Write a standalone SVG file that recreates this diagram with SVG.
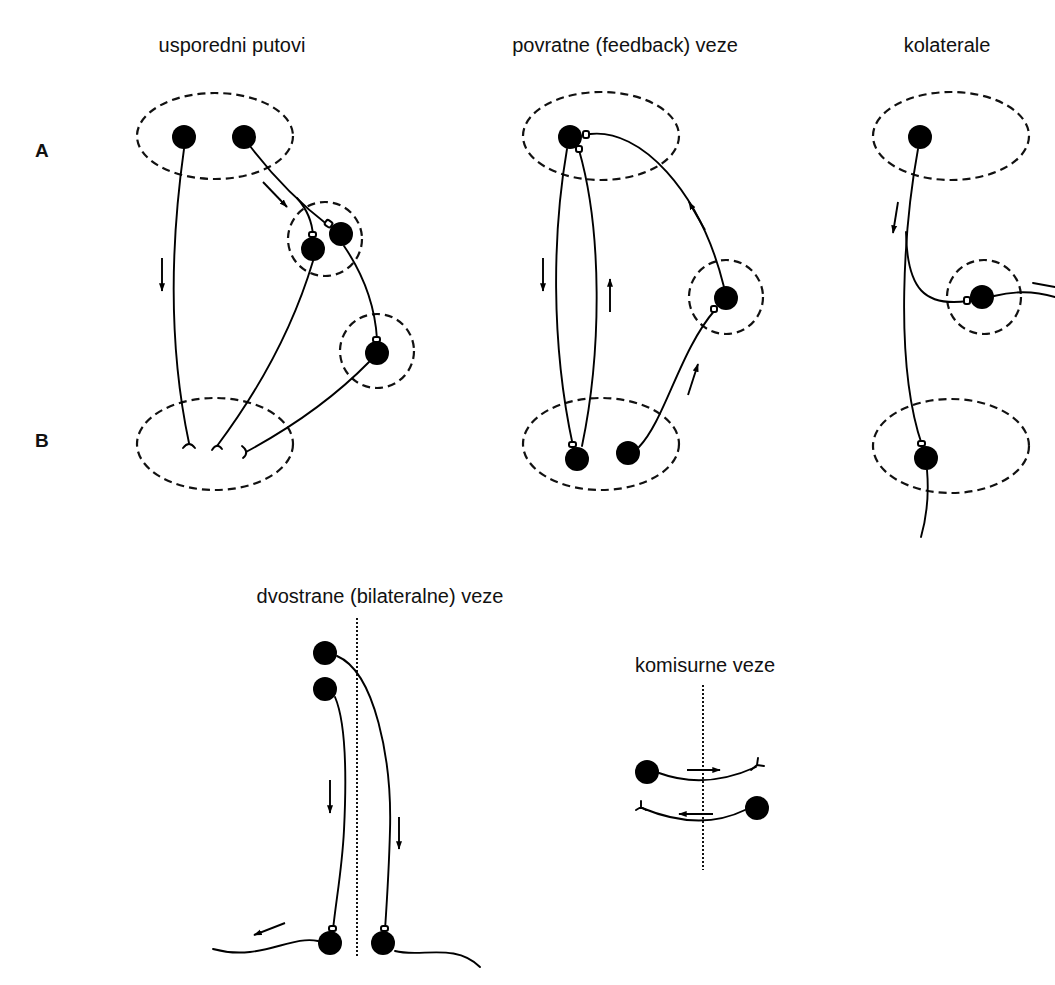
<svg xmlns="http://www.w3.org/2000/svg" width="1055" height="985" viewBox="0 0 1055 985">
<style>
.t{font-family:"Liberation Sans",Arial,sans-serif;font-size:20px;fill:#111;text-anchor:middle}
.L{font-family:"Liberation Sans",Arial,sans-serif;font-size:19px;font-weight:bold;fill:#111}
.grp{fill:none;stroke:#111;stroke-width:2.2;stroke-dasharray:8 5}
.mid{fill:none;stroke:#111;stroke-width:2;stroke-dasharray:2 2}
.n{fill:#000}
.ax{fill:none;stroke:#000;stroke-width:1.9;stroke-linecap:round}
.ar{fill:none;stroke:#000;stroke-width:1.9;marker-end:url(#ah)}
.kn{fill:#fff;stroke:#000;stroke-width:2}
</style>
<defs>
<marker id="ah" viewBox="0 0 10 10" refX="9" refY="5" markerWidth="4.5" markerHeight="4.5" orient="auto" markerUnits="strokeWidth">
<path d="M0,1.5 L10,5 L0,8.5 Z" fill="#000"/>
</marker>
</defs>
<rect width="1055" height="985" fill="#fff"/>
<g id="labels">
<text class="t" x="232" y="52">usporedni putovi</text>
<text class="t" x="625" y="52">povratne (feedback) veze</text>
<text class="t" x="947" y="52">kolaterale</text>
<text class="t" x="380" y="603">dvostrane (bilateralne) veze</text>
<text class="t" x="705" y="672">komisurne veze</text>
<text class="L" x="35" y="157">A</text>
<text class="L" x="35" y="447">B</text>
</g>
<g id="groups">
<ellipse class="grp" cx="215" cy="136" rx="78" ry="43"/>
<ellipse class="grp" cx="215" cy="444" rx="78" ry="46"/>
<circle class="grp" cx="325" cy="239" r="37"/>
<circle class="grp" cx="377" cy="351" r="37"/>
<ellipse class="grp" cx="601" cy="136" rx="78" ry="44"/>
<ellipse class="grp" cx="601" cy="444" rx="78" ry="46"/>
<circle class="grp" cx="726" cy="297" r="37"/>
<ellipse class="grp" cx="951" cy="136" rx="78" ry="44"/>
<ellipse class="grp" cx="951" cy="446" rx="78" ry="47"/>
<circle class="grp" cx="984" cy="297" r="37"/>
<line class="mid" x1="357" y1="618" x2="357" y2="958"/>
<line class="mid" x1="703" y1="685" x2="703" y2="870"/>
</g>
<g id="connectors">
<path class="ax" d="M184,149 C174,220 165,330 189,443"/>
<path class="ax" d="M250,146 Q285,192 329,226"/>
<path class="ax" d="M297,198 Q312,215 313,236"/>
<path class="ax" d="M313,261 Q285,355 217,446"/>
<path class="ax" d="M344,246 Q374,290 377,339"/>
<path class="ax" d="M369,362 Q320,412 246,452"/>
<path class="ax" d="M183,448 Q189,440 195,448"/>
<path class="ax" d="M212,450 Q217,442 222,449"/>
<path class="ax" d="M242,446 Q250,452 243,458"/>
<path class="ar" d="M162,258 L162,291"/>
<path class="ar" d="M263,182 L287,207"/>
<path class="ax" d="M567,149 C553,230 550,340 573,446"/>
<path class="ax" d="M582,446 C602,350 602,230 579,150"/>
<path class="ax" d="M724,287 C700,190 640,128 590,134"/>
<path class="ax" d="M639,447 C665,420 680,350 715,310"/>
<path class="ar" d="M543,258 L543,291"/>
<path class="ar" d="M610,312 L610,279"/>
<path class="ar" d="M705,230 L689,202"/>
<path class="ar" d="M688,395 L698,364"/>
<path class="ax" d="M918,149 C905,220 893,360 922,445"/>
<path class="ax" d="M906,232 C907,290 925,307 968,301"/>
<path class="ax" d="M994,296 Q1025,288 1055,297"/>
<path class="ax" d="M927,470 Q930,505 921,537"/>
<path class="ar" d="M898,202 L893,233"/>
<path class="ax" d="M1033,283 L1055,287"/>
<path class="ax" d="M337,656 C375,672 392,760 390,830 C389,870 387,900 385,930"/>
<path class="ax" d="M335,697 C347,725 346,790 344,830 C342,870 336,900 333,930"/>
<path class="ax" d="M318,941 C290,935 260,962 213,949"/>
<path class="ax" d="M395,951 C420,958 455,942 480,967"/>
<path class="ar" d="M330,780 L330,813"/>
<path class="ar" d="M399,817 L399,849"/>
<path class="ar" d="M285,923 L254,935"/>
<path class="ax" d="M659,773 Q705,790 756,767"/>
<path class="ax" d="M751,770 L757,765 L758,758 M757,765 L764,766"/>
<path class="ax" d="M745,810 Q700,832 642,808"/>
<path class="ax" d="M646,810 L641,807 L636,810 M641,807 L641,801"/>
<path class="ar" d="M687,770 L720,770"/>
<path class="ar" d="M713,814 L679,814"/>
</g>
<g id="knobs">
<rect class="kn" x="325" y="221" width="7" height="6" rx="2" transform="rotate(35 329 224)"/>
<rect class="kn" x="309" y="232" width="7" height="5" rx="2"/>
<rect class="kn" x="373" y="337" width="7" height="5" rx="2"/>
<rect class="kn" x="569" y="442" width="7" height="5" rx="2"/>
<rect class="kn" x="576" y="146" width="6" height="6" rx="2"/>
<rect class="kn" x="583" y="131" width="6" height="7" rx="2"/>
<rect class="kn" x="711" y="306" width="6" height="6" rx="2"/>
<rect class="kn" x="964" y="297" width="6" height="7" rx="2"/>
<rect class="kn" x="918" y="441" width="7" height="5" rx="2"/>
<rect class="kn" x="329" y="926" width="7" height="5" rx="2"/>
<rect class="kn" x="381" y="926" width="7" height="5" rx="2"/>
</g>
<g id="n-u1"><circle class="n" cx="184" cy="137" r="12"/></g>
<g id="n-u2"><circle class="n" cx="244" cy="137" r="12"/></g>
<g id="n-u3"><circle class="n" cx="313" cy="249" r="12"/></g>
<g id="n-u4"><circle class="n" cx="341" cy="234" r="12"/></g>
<g id="n-u5"><circle class="n" cx="377" cy="353" r="12"/></g>
<g id="n-f1"><circle class="n" cx="570" cy="137" r="12"/></g>
<g id="n-f2"><circle class="n" cx="577" cy="459" r="12"/></g>
<g id="n-f3"><circle class="n" cx="628" cy="453" r="12"/></g>
<g id="n-f4"><circle class="n" cx="726" cy="298" r="12"/></g>
<g id="n-k1"><circle class="n" cx="920" cy="137" r="12"/></g>
<g id="n-k2"><circle class="n" cx="982" cy="297" r="12"/></g>
<g id="n-k3"><circle class="n" cx="926" cy="458" r="12"/></g>
<g id="n-d1"><circle class="n" cx="325" cy="653" r="12"/></g>
<g id="n-d2"><circle class="n" cx="325" cy="689" r="12"/></g>
<g id="n-d3"><circle class="n" cx="330" cy="943" r="12"/></g>
<g id="n-d4"><circle class="n" cx="383" cy="943" r="12"/></g>
<g id="n-c1"><circle class="n" cx="647" cy="772" r="12"/></g>
<g id="n-c2"><circle class="n" cx="757" cy="808" r="12"/></g>
</svg>
